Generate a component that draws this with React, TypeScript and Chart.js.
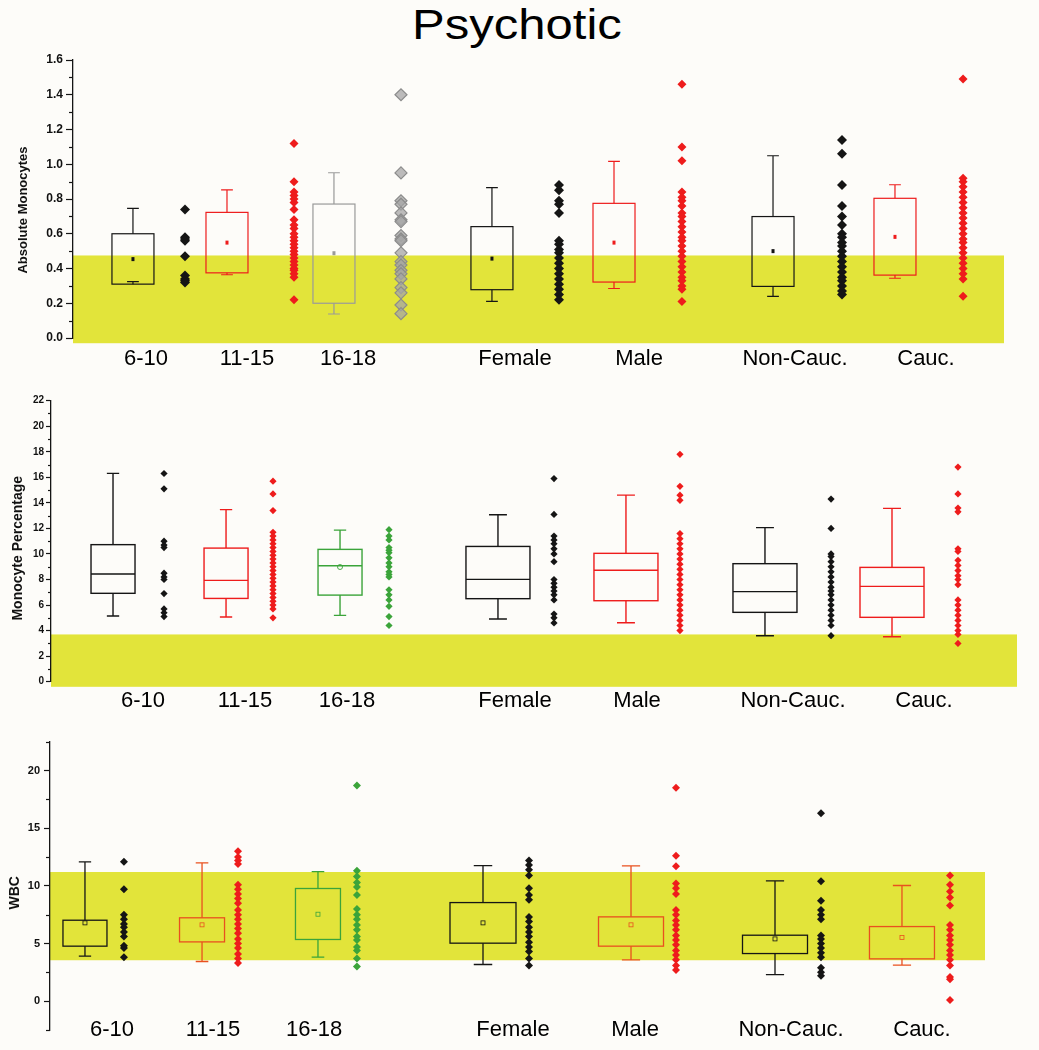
import React, { useEffect, useRef } from "react";
import { Chart, registerables } from "chart.js";
Chart.register(...registerables);

// ---------- shared ----------
const categories = ["6-10", "11-15", "16-18", "Female", "Male", "Non-Cauc.", "Cauc."];
const BLACK = "#151515";
const RED = "#ee1c1c";
const GRAY = "#9a9a9a";
const GREEN = "#3ba43a";
const ORANGE = "#e9501f";
const BAND = "#e2e43a";

// ---------- Panel 1: Absolute Monocytes ----------
const amYTicks = [0, 0.2, 0.4, 0.6, 0.8, 1.0, 1.2, 1.4, 1.6];
const amYMinor = [0.1, 0.3, 0.5, 0.7, 0.9, 1.1, 1.3, 1.5];
const amBand = [-0.03, 0.475];
const amQ1 = [0.31, 0.375, 0.2, 0.278, 0.322, 0.297, 0.362];
const amQ3 = [0.6, 0.723, 0.771, 0.641, 0.775, 0.699, 0.804];
const amLo = [0.325, 0.364, 0.138, 0.211, 0.285, 0.239, 0.344];
const amHi = [0.746, 0.852, 0.951, 0.865, 1.016, 1.049, 0.882];
const amMed: (number | null)[] = [null, null, null, null, null, null, null];
const amMean: (number | null)[] = [0.454, 0.549, 0.488, 0.457, 0.549, 0.5, 0.582];
const amBoxX = [6.44, 16.54, 28.03, 45.0, 58.11, 75.19, 88.29];
const amPtsX = [12.03, 23.74, 35.23, 52.2, 65.41, 82.6, 95.6];
const amLblX = [7.84, 18.69, 29.54, 47.48, 60.8, 77.55, 91.62];
const amP610 = [0.74, 0.58, 0.57, 0.56, 0.47, 0.36, 0.34, 0.33, 0.32];
const amP1115 = [1.12, 0.9, 0.84, 0.82, 0.8, 0.78, 0.74, 0.68, 0.65, 0.63, 0.6, 0.58, 0.56, 0.54, 0.52, 0.5, 0.48, 0.46, 0.44, 0.42, 0.4, 0.39, 0.37, 0.35, 0.22];
const amP1618 = [1.4, 0.95, 0.79, 0.77, 0.72, 0.68, 0.67, 0.59, 0.57, 0.56, 0.49, 0.44, 0.42, 0.39, 0.37, 0.34, 0.29, 0.26, 0.19, 0.14];
const amPF = [0.88, 0.85, 0.79, 0.77, 0.72, 0.56, 0.54, 0.51, 0.49, 0.46, 0.43, 0.4, 0.37, 0.34, 0.31, 0.28, 0.25, 0.22];
const amPM = [1.46, 1.1, 1.02, 0.84, 0.81, 0.79, 0.76, 0.72, 0.7, 0.67, 0.64, 0.61, 0.58, 0.56, 0.53, 0.5, 0.47, 0.44, 0.41, 0.38, 0.35, 0.33, 0.3, 0.28, 0.21];
const amPNC = [1.14, 1.06, 0.88, 0.76, 0.7, 0.65, 0.6, 0.58, 0.55, 0.53, 0.5, 0.47, 0.44, 0.41, 0.38, 0.35, 0.33, 0.3, 0.27, 0.25];
const amPC = [1.49, 0.92, 0.9, 0.87, 0.84, 0.81, 0.78, 0.75, 0.72, 0.69, 0.66, 0.63, 0.6, 0.57, 0.55, 0.52, 0.49, 0.46, 0.43, 0.4, 0.37, 0.34, 0.24];

// ---------- Panel 2: Monocyte Percentage ----------
const mpYTicks = [0, 2, 4, 6, 8, 10, 12, 14, 16, 18, 20, 22];
const mpYMinor = [1, 3, 5, 7, 9, 11, 13, 15, 17, 19, 21];
const mpBand = [-0.4, 3.7];
const mpQ1 = [6.92, 6.52, 6.78, 6.5, 6.34, 5.43, 5.04];
const mpQ3 = [10.73, 10.46, 10.36, 10.59, 10.05, 9.24, 8.95];
const mpMed: (number | null)[] = [8.43, 7.93, 9.08, 8.01, 8.72, 7.05, 7.46];
const mpLo = [5.14, 5.06, 5.19, 4.91, 4.62, 3.6, 3.52];
const mpHi = [16.31, 13.47, 11.87, 13.07, 14.61, 12.06, 13.57];
const mpMean: (number | null)[] = [null, null, 8.98, null, null, null, null];
const mpBoxX = [6.42, 18.12, 29.92, 46.27, 59.52, 73.91, 87.06];
const mpPtsX = [11.7, 22.98, 34.99, 52.07, 65.11, 80.75, 93.89];
const mpLblX = [9.52, 20.08, 30.64, 48.03, 60.66, 76.81, 90.37];
const mpP610 = [16.3, 15.1, 11.0, 10.7, 10.5, 8.5, 8.2, 8.0, 6.9, 5.7, 5.4, 5.1];
const mpP1115 = [15.7, 14.7, 13.4, 11.7, 11.4, 11.1, 10.8, 10.5, 10.2, 9.9, 9.6, 9.3, 9.0, 8.7, 8.4, 8.1, 7.8, 7.5, 7.2, 6.9, 6.6, 6.3, 6.0, 5.7, 5.0];
const mpP1618 = [11.9, 11.4, 11.1, 10.5, 10.3, 10.1, 9.7, 9.3, 9.0, 8.6, 8.4, 8.2, 7.2, 6.8, 6.4, 5.9, 5.1, 4.4];
const mpPF = [15.9, 13.1, 11.4, 11.1, 10.8, 10.4, 10.0, 9.4, 8.0, 7.7, 7.4, 7.1, 6.8, 6.4, 5.3, 5.0, 4.6];
const mpPM = [17.8, 15.3, 14.6, 14.2, 11.6, 11.2, 10.8, 10.4, 10.0, 9.6, 9.2, 8.8, 8.4, 8.0, 7.6, 7.2, 6.8, 6.4, 6.0, 5.6, 5.2, 4.8, 4.4, 4.0];
const mpPNC = [14.3, 12.0, 10.0, 9.8, 9.4, 9.0, 8.6, 8.2, 7.8, 7.4, 7.1, 6.8, 6.4, 6.0, 5.6, 5.2, 4.8, 4.4, 3.6];
const mpPC = [16.8, 14.7, 13.6, 13.3, 10.4, 10.2, 9.5, 9.1, 8.7, 8.3, 8.0, 7.6, 6.4, 6.0, 5.6, 5.2, 4.8, 4.4, 4.0, 3.7, 3.0];

// ---------- Panel 3: WBC ----------
const wbYTicks = [0, 5, 10, 15, 20];
const wbYMinor = [-2.5, 2.5, 7.5, 12.5, 17.5, 22.5];
const wbBand = [3.55, 11.2];
const wbQ1 = [4.77, 5.14, 5.35, 5.03, 4.77, 4.13, 3.67];
const wbQ3 = [7.02, 7.23, 9.77, 8.55, 7.31, 5.72, 6.47];
const wbLo = [3.9, 3.44, 3.82, 3.18, 3.58, 2.31, 3.12];
const wbHi = [12.08, 11.99, 11.24, 11.76, 11.73, 10.43, 10.03];
const wbMed: (number | null)[] = [null, null, null, null, null, null, null];
const wbMean: (number | null)[] = [6.79, 6.62, 7.54, 6.79, 6.62, 5.4, 5.52];
const wbBoxX = [3.74, 16.26, 28.66, 46.31, 62.14, 77.54, 91.12];
const wbPtsX = [7.91, 20.11, 32.83, 51.23, 66.95, 82.46, 96.26];
const wbLblX = [6.63, 17.43, 28.24, 49.52, 62.57, 79.25, 93.26];
const wbP610 = [12.1, 9.7, 7.5, 7.1, 6.7, 6.4, 6.0, 5.6, 4.8, 4.6, 3.8];
const wbP1115 = [13.0, 12.5, 12.2, 11.9, 10.1, 9.7, 9.3, 8.9, 8.5, 7.9, 7.5, 7.1, 6.7, 6.3, 5.9, 5.4, 5.0, 4.6, 4.1, 3.7, 3.3];
const wbP1618 = [18.7, 11.3, 10.8, 10.3, 9.9, 9.2, 8.0, 7.5, 7.1, 6.6, 6.2, 5.6, 5.3, 4.7, 4.4, 3.7, 3.0];
const wbPF = [12.2, 11.8, 11.4, 10.9, 9.8, 9.2, 8.8, 7.3, 6.9, 6.4, 6.0, 5.6, 5.1, 4.7, 4.3, 3.7, 3.1];
const wbPM = [18.5, 12.6, 11.7, 10.2, 9.8, 9.3, 7.9, 7.5, 7.0, 6.6, 6.2, 5.7, 5.3, 4.9, 4.4, 4.0, 3.6, 3.1, 2.7];
const wbPNC = [16.3, 10.4, 8.7, 7.9, 7.5, 7.1, 5.7, 5.4, 5.0, 4.6, 4.2, 3.8, 2.9, 2.5, 2.2];
const wbPC = [10.9, 10.1, 9.5, 9.0, 8.3, 6.6, 6.2, 5.7, 5.3, 4.9, 4.4, 4.0, 3.6, 3.1, 2.1, 1.9, 0.1];

type PanelCfg = {
  top: number; height: number; padTop: number; padRight: number; axisW: number; xAxisH: number; xLblPad: number; xMirror: boolean;
  yMin: number; yMax: number; yTicks: number[]; yMinor: number[]; decimals: number;
  tickFont: number; tickLen: number; minorLen: number; tickPad: number;
  yTitle: string; yTitleFamily: string; yTitleSize: number; yTitleX: number; yTitleDy: number;
  band: number[];
  q1: number[]; q3: number[]; lo: number[]; hi: number[]; med: (number | null)[]; mean: (number | null)[];
  meanStyle: string; boxLine: number;
  boxX: number[]; ptsX: number[]; lblX: number[]; boxW: number[];
  boxColors: string[]; points: number[][]; ptFill: string[]; ptBorder: string[]; ptBorderW: number[]; ptRadius: number[];
};

const SANS = '"Liberation Sans", Arial, Helvetica, sans-serif';

const panels: PanelCfg[] = [
  {
    top: 0, height: 385, padTop: 60, padRight: 35, axisW: 73, xAxisH: 47, xLblPad: 7.8, xMirror: false,
    yMin: 0, yMax: 1.6, yTicks: amYTicks, yMinor: amYMinor, decimals: 1,
    tickFont: 12, tickLen: 7, minorLen: 4, tickPad: 3,
    yTitle: "Absolute Monocytes", yTitleFamily: SANS, yTitleSize: 13, yTitleX: 23, yTitleDy: 11,
    band: amBand,
    q1: amQ1, q3: amQ3, lo: amLo, hi: amHi, med: amMed, mean: amMean, meanStyle: "square", boxLine: 1.2,
    boxX: amBoxX, ptsX: amPtsX, lblX: amLblX, boxW: [42, 42, 42, 42, 42, 42, 42],
    boxColors: [BLACK, RED, GRAY, BLACK, RED, BLACK, RED],
    points: [amP610, amP1115, amP1618, amPF, amPM, amPNC, amPC],
    ptFill: [BLACK, RED, "rgba(165,165,165,0.75)", BLACK, RED, BLACK, RED],
    ptBorder: [BLACK, RED, "#8c8c8c", BLACK, RED, BLACK, RED],
    ptBorderW: [0, 0, 1.2, 0, 0, 0, 0],
    ptRadius: [5, 4.5, 6, 5, 4.5, 5, 4.5],
  },
  {
    top: 385, height: 330, padTop: 15.7, padRight: 22, axisW: 51, xAxisH: 33.3, xLblPad: 6.1, xMirror: false,
    yMin: 0, yMax: 22, yTicks: mpYTicks, yMinor: mpYMinor, decimals: 0,
    tickFont: 10, tickLen: 5, minorLen: 3, tickPad: 2,
    yTitle: "Monocyte Percentage", yTitleFamily: '"Liberation Sans Narrow", "Arial Narrow", ' + SANS, yTitleSize: 14, yTitleX: 18, yTitleDy: 7,
    band: mpBand,
    q1: mpQ1, q3: mpQ3, lo: mpLo, hi: mpHi, med: mpMed, mean: mpMean, meanStyle: "circle", boxLine: 1.4,
    boxX: mpBoxX, ptsX: mpPtsX, lblX: mpLblX, boxW: [44, 44, 44, 64, 64, 64, 64],
    boxColors: [BLACK, RED, GREEN, BLACK, RED, BLACK, RED],
    points: [mpP610, mpP1115, mpP1618, mpPF, mpPM, mpPNC, mpPC],
    ptFill: [BLACK, RED, GREEN, BLACK, RED, BLACK, RED],
    ptBorder: [BLACK, RED, GREEN, BLACK, RED, BLACK, RED],
    ptBorderW: [0, 0, 0, 0, 0, 0, 0],
    ptRadius: [3.6, 3.6, 3.6, 3.6, 3.6, 3.6, 3.6],
  },
  {
    top: 715, height: 335, padTop: 26.7, padRight: 54, axisW: 50, xAxisH: 20, xLblPad: -12.8, xMirror: true,
    yMin: -2.5, yMax: 22.5, yTicks: wbYTicks, yMinor: wbYMinor, decimals: 0,
    tickFont: 11, tickLen: 6, minorLen: 4, tickPad: 4,
    yTitle: "WBC", yTitleFamily: SANS, yTitleSize: 14, yTitleX: 15, yTitleDy: 7,
    band: wbBand,
    q1: wbQ1, q3: wbQ3, lo: wbLo, hi: wbHi, med: wbMed, mean: wbMean, meanStyle: "openSquare", boxLine: 1.3,
    boxX: wbBoxX, ptsX: wbPtsX, lblX: wbLblX, boxW: [44, 45, 45, 66, 65, 65, 65],
    boxColors: [BLACK, ORANGE, GREEN, BLACK, ORANGE, BLACK, ORANGE],
    points: [wbP610, wbP1115, wbP1618, wbPF, wbPM, wbPNC, wbPC],
    ptFill: [BLACK, RED, GREEN, BLACK, RED, BLACK, RED],
    ptBorder: [BLACK, RED, GREEN, BLACK, RED, BLACK, RED],
    ptBorderW: [0, 0, 0, 0, 0, 0, 0],
    ptRadius: [4, 4, 4, 4, 4, 4, 4],
  },
];

function makePlugin(cfg: PanelCfg) {
  return {
    id: "bandBoxes",
    beforeDraw(chart: any) {
      const { ctx, chartArea } = chart;
      const ys = chart.scales.y;
      const t = ys.getPixelForValue(cfg.band[1]);
      const b = ys.getPixelForValue(cfg.band[0]);
      ctx.save();
      ctx.fillStyle = BAND;
      ctx.fillRect(chartArea.left, t, chartArea.right - chartArea.left, b - t);
      ctx.restore();
    },
    afterDraw(chart: any) {
      // y-axis title (kept as real canvas text)
      const { ctx, chartArea } = chart;
      ctx.save();
      ctx.translate(cfg.yTitleX, (chartArea.top + chartArea.bottom) / 2 + cfg.yTitleDy);
      ctx.rotate(-Math.PI / 2);
      ctx.fillStyle = "#111";
      ctx.font = `bold ${cfg.yTitleSize}px ${cfg.yTitleFamily}`;
      ctx.textAlign = "center";
      ctx.textBaseline = "middle";
      ctx.fillText(cfg.yTitle, 0, 0);
      ctx.restore();
    },
    beforeDatasetsDraw(chart: any) {
      const { ctx, chartArea } = chart;
      const xs = chart.scales.x;
      const ys = chart.scales.y;
      ctx.save();
      // minor ticks
      ctx.strokeStyle = BLACK;
      ctx.lineWidth = 1.2;
      cfg.yMinor.forEach((v) => {
        const py = Math.round(ys.getPixelForValue(v)) + 0.5;
        ctx.beginPath();
        ctx.moveTo(chartArea.left - cfg.minorLen, py);
        ctx.lineTo(chartArea.left, py);
        ctx.stroke();
      });
      // boxes
      cfg.q1.forEach((q1, i) => {
        const cx = xs.getPixelForValue(cfg.boxX[i]);
        const hw = cfg.boxW[i] / 2;
        const cap = cfg.boxW[i] * 0.14;
        const yq1 = ys.getPixelForValue(q1);
        const yq3 = ys.getPixelForValue(cfg.q3[i]);
        const ylo = ys.getPixelForValue(cfg.lo[i]);
        const yhi = ys.getPixelForValue(cfg.hi[i]);
        ctx.strokeStyle = cfg.boxColors[i];
        ctx.lineWidth = cfg.boxLine;
        ctx.strokeRect(cx - hw, yq3, 2 * hw, yq1 - yq3);
        ctx.beginPath();
        ctx.moveTo(cx, yq3); ctx.lineTo(cx, yhi);
        ctx.moveTo(cx - cap, yhi); ctx.lineTo(cx + cap, yhi);
        ctx.moveTo(cx, yq1); ctx.lineTo(cx, ylo);
        ctx.moveTo(cx - cap, ylo); ctx.lineTo(cx + cap, ylo);
        const med = cfg.med[i];
        if (med != null) {
          const ym = ys.getPixelForValue(med);
          ctx.moveTo(cx - hw, ym); ctx.lineTo(cx + hw, ym);
        }
        ctx.stroke();
        const mean = cfg.mean[i];
        if (mean != null) {
          const ym = ys.getPixelForValue(mean);
          if (cfg.meanStyle === "square") {
            ctx.fillStyle = cfg.boxColors[i];
            ctx.fillRect(cx - 1.5, ym - 2, 3, 4);
          } else if (cfg.meanStyle === "circle") {
            ctx.lineWidth = 0.9;
            ctx.beginPath();
            ctx.arc(cx, ym, 2.5, 0, Math.PI * 2);
            ctx.stroke();
          } else {
            ctx.lineWidth = 0.8;
            ctx.strokeRect(cx - 2, ym - 2, 4, 4);
          }
        }
      });
      ctx.restore();
    },
  };
}

function Panel({ cfg }: { cfg: PanelCfg }) {
  const ref = useRef<HTMLCanvasElement>(null);
  useEffect(() => {
    const canvas = ref.current;
    if (!canvas) return;
    const datasets: any[] = cfg.points.map((vals, i) => ({
      type: "scatter",
      data: vals.map((v) => ({ x: cfg.ptsX[i], y: v })),
      pointStyle: "rectRot",
      pointRadius: cfg.ptRadius[i],
      backgroundColor: cfg.ptFill[i],
      borderColor: cfg.ptBorder[i],
      borderWidth: cfg.ptBorderW[i],
      showLine: false,
    }));
    const chart = new Chart(canvas, {
      type: "scatter",
      data: { datasets },
      options: {
        animation: false,
        responsive: false,
        devicePixelRatio: 1,
        events: [],
        layout: { padding: { top: cfg.padTop, right: cfg.padRight, bottom: 0, left: 0 } },
        plugins: { legend: { display: false }, tooltip: { enabled: false }, title: { display: false } },
        scales: {
          x: {
            type: "linear",
            min: 0,
            max: 100,
            grid: { display: false, drawTicks: false },
            border: { display: false },
            afterBuildTicks: (s: any) => {
              s.ticks = cfg.lblX.map((v) => ({ value: v }));
            },
            afterFit: (s: any) => {
              s.height = cfg.xAxisH;
            },
            ticks: {
              autoSkip: false,
              maxRotation: 0,
              minRotation: 0,
              mirror: cfg.xMirror,
              padding: cfg.xLblPad,
              color: "#000",
              font: { family: SANS, size: 22 },
              callback: (_v: any, i: number) => categories[i],
            },
          },
          y: {
            type: "linear",
            min: cfg.yMin,
            max: cfg.yMax,
            afterBuildTicks: (s: any) => {
              s.ticks = cfg.yTicks.map((v) => ({ value: v }));
            },
            afterFit: (s: any) => {
              s.width = cfg.axisW;
            },
            ticks: {
              padding: cfg.tickPad,
              color: "#111",
              font: { family: SANS, size: cfg.tickFont, weight: "bold" },
              callback: (v: any) => Number(v).toFixed(cfg.decimals),
            },
            grid: {
              drawOnChartArea: false,
              drawTicks: true,
              tickLength: cfg.tickLen,
              tickColor: BLACK,
              tickWidth: 1.2,
            },
            border: { display: true, color: BLACK, width: 1.3 },
            title: { display: false },
          },
        },
      } as any,
      plugins: [makePlugin(cfg)],
    });
    return () => chart.destroy();
  }, [cfg]);
  return (
    <canvas
      ref={ref}
      width={1039}
      height={cfg.height}
      style={{ position: "absolute", left: 0, top: cfg.top, display: "block" }}
    />
  );
}

export default function App() {
  return (
    <div
      style={{
        position: "absolute",
        left: 0,
        top: 0,
        width: 1039,
        height: 1050,
        background: "#fdfcf9",
        overflow: "hidden",
      }}
    >
      <div
        style={{
          position: "absolute",
          left: 0,
          top: 3,
          width: 1034,
          textAlign: "center",
          fontFamily: SANS,
          fontSize: 43,
          lineHeight: "43px",
          color: "#000",
          transform: "scaleX(1.14)",
        }}
      >
        Psychotic
      </div>
      {panels.map((p, i) => (
        <Panel key={i} cfg={p} />
      ))}
    </div>
  );
}
